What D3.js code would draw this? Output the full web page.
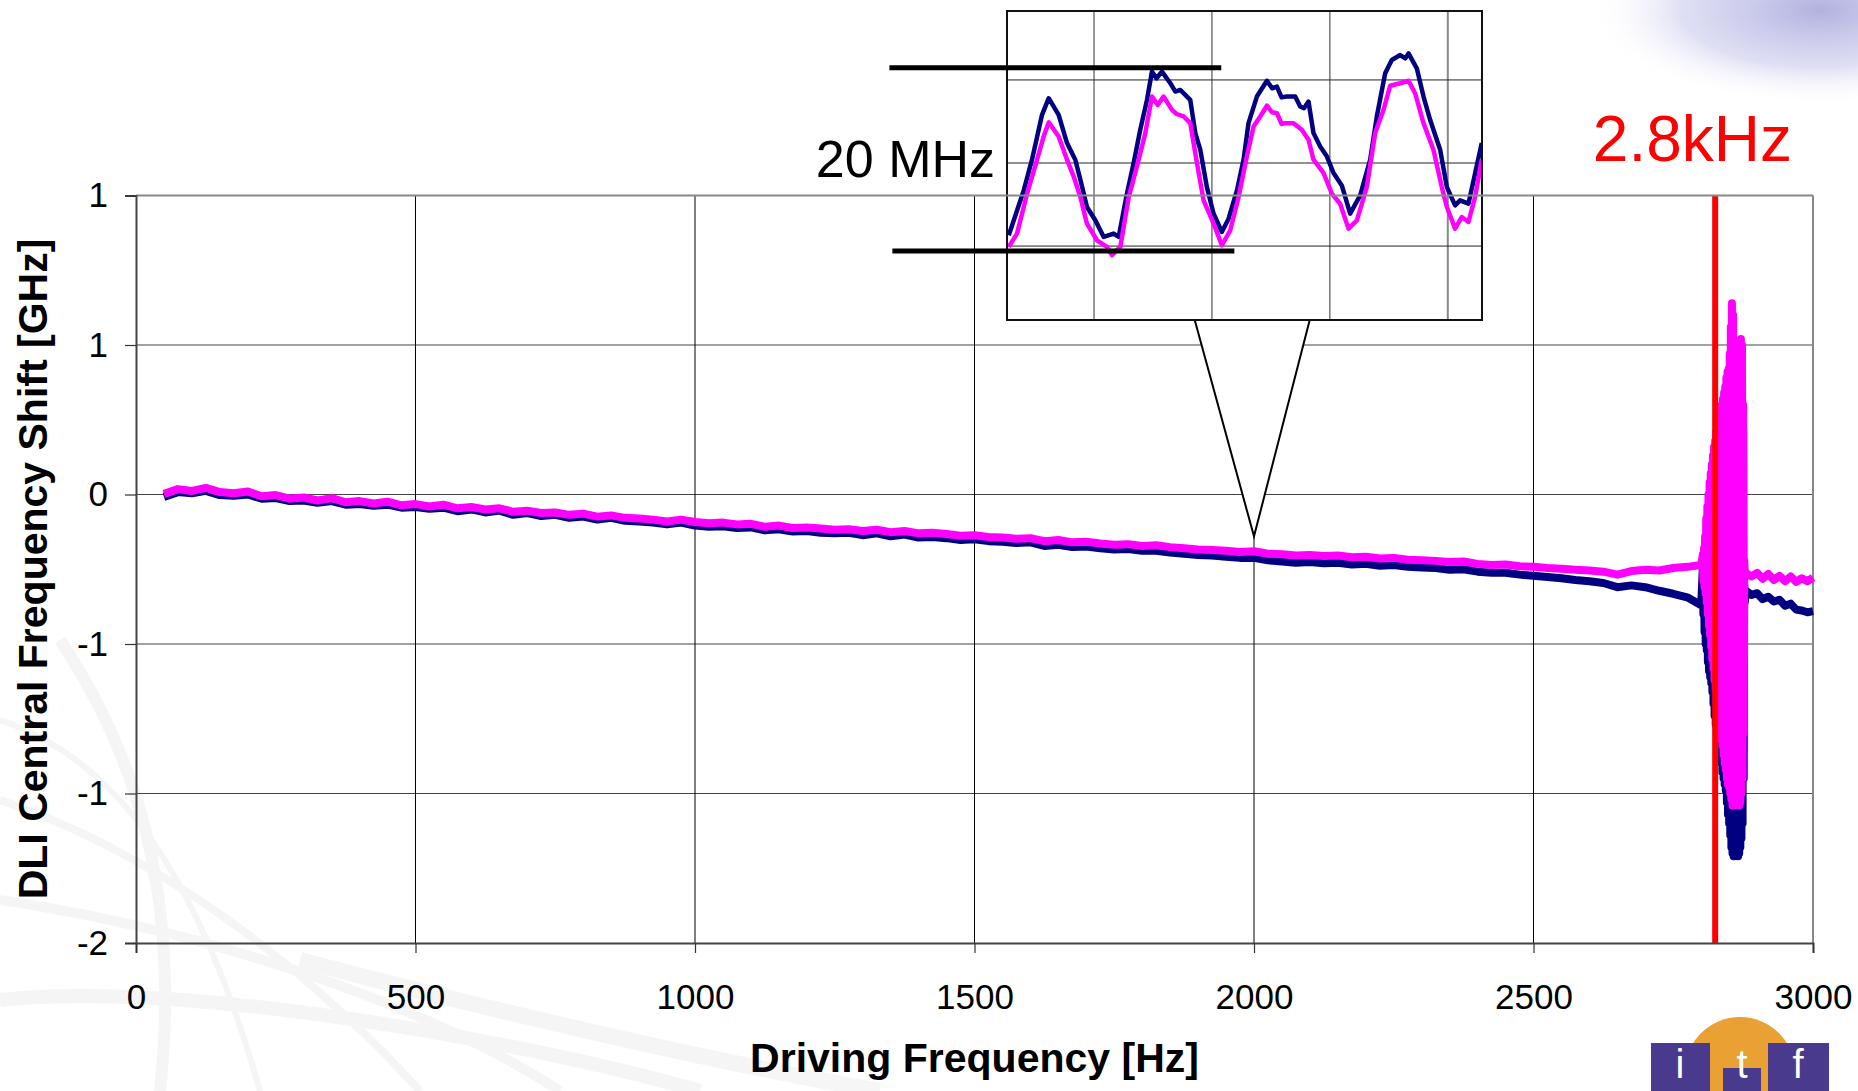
<!DOCTYPE html>
<html>
<head>
<meta charset="utf-8">
<script src="https://cdn.jsdelivr.net/npm/d3@7"></script>
<style>
  html, body { margin: 0; padding: 0; background: #fff; }
  svg { display: block; font-family: "Liberation Sans", Arial, sans-serif; }
</style>
</head>
<body>
<svg id="chart"></svg>
<script>
// ---- data ----
// main sweep, 50..2800 Hz every 25 Hz
const baseHz = d3.range(50, 2801, 25);
const magentaBase = [
  0.002, 0.018, 0.012, 0.022, 0.008, 0.004, 0.010, -0.006, -0.002, -0.014,
  -0.010, -0.020, -0.012, -0.026, -0.022, -0.030, -0.024, -0.036, -0.032, -0.040,
  -0.034, -0.046, -0.042, -0.050, -0.046, -0.058, -0.054, -0.062, -0.060, -0.068,
  -0.064, -0.074, -0.070, -0.078, -0.080, -0.084, -0.090, -0.084, -0.092, -0.096,
  -0.094, -0.100, -0.098, -0.108, -0.104, -0.112, -0.110, -0.114, -0.118, -0.116,
  -0.122, -0.118, -0.126, -0.122, -0.130, -0.128, -0.132, -0.138, -0.136, -0.142,
  -0.144, -0.148, -0.146, -0.156, -0.152, -0.160, -0.158, -0.164, -0.168, -0.166,
  -0.172, -0.170, -0.176, -0.180, -0.184, -0.186, -0.188, -0.192, -0.190, -0.198,
  -0.200, -0.204, -0.202, -0.206, -0.204, -0.210, -0.208, -0.214, -0.212, -0.218,
  -0.220, -0.222, -0.226, -0.224, -0.232, -0.236, -0.234, -0.240, -0.242, -0.246,
  -0.248, -0.252, -0.254, -0.258, -0.268, -0.256, -0.252, -0.254, -0.246, -0.242, -0.236
];
const navyBase = [
  -0.008, 0.008, 0.004, 0.012, -0.002, -0.004, 0.000, -0.014, -0.012, -0.022,
  -0.020, -0.028, -0.022, -0.034, -0.032, -0.038, -0.034, -0.044, -0.042, -0.048,
  -0.044, -0.056, -0.050, -0.060, -0.054, -0.068, -0.062, -0.072, -0.068, -0.078,
  -0.074, -0.084, -0.078, -0.088, -0.090, -0.094, -0.100, -0.094, -0.104, -0.108,
  -0.106, -0.112, -0.110, -0.120, -0.116, -0.124, -0.122, -0.128, -0.130, -0.128,
  -0.136, -0.130, -0.140, -0.134, -0.144, -0.142, -0.146, -0.152, -0.150, -0.156,
  -0.158, -0.162, -0.160, -0.172, -0.168, -0.176, -0.174, -0.180, -0.184, -0.182,
  -0.188, -0.188, -0.194, -0.198, -0.202, -0.204, -0.208, -0.212, -0.212, -0.220,
  -0.224, -0.228, -0.226, -0.230, -0.228, -0.234, -0.232, -0.238, -0.236, -0.242,
  -0.244, -0.246, -0.252, -0.250, -0.258, -0.262, -0.262, -0.268, -0.272, -0.276,
  -0.280, -0.286, -0.290, -0.296, -0.310, -0.304, -0.310, -0.322, -0.332, -0.344, -0.370
];
// resonance, 2803..2878 Hz every 1 Hz (alternating swing)
const resHz = d3.range(2803, 2879);
const magentaRes = [
  -0.20, -0.29, -0.18, -0.31, -0.14, -0.33, -0.08, -0.36, -0.04, -0.40,
  0.00, -0.44, 0.04, -0.47, 0.07, -0.51, 0.10, -0.55, 0.13, -0.58,
  0.16, -0.62, 0.18, -0.65, 0.21, -0.69, 0.23, -0.72, 0.26, -0.75,
  0.27, -0.79, 0.29, -0.82, 0.30, -0.84, 0.32, -0.87, 0.34, -0.90,
  0.36, -0.92, 0.39, -0.95, 0.41, -0.97, 0.42, -0.98, 0.47, -1.00,
  0.56, -1.02, 0.64, -1.04, 0.60, -1.04, 0.45, -1.03, 0.40, -1.01,
  0.38, -1.00, 0.44, -1.02, 0.48, -1.04, 0.51, -1.03, 0.52, -1.00,
  0.50, -0.95, 0.30, -0.80, -0.22, -0.26
];
const navyRes = [
  -0.24, -0.40, -0.24, -0.46, -0.22, -0.50, -0.16, -0.52, -0.12, -0.56,
  -0.08, -0.59, -0.04, -0.61, -0.01, -0.63, 0.02, -0.66, 0.05, -0.70,
  0.08, -0.74, 0.10, -0.77, 0.13, -0.80, 0.15, -0.82, 0.18, -0.84,
  0.19, -0.87, 0.21, -0.90, 0.22, -0.93, 0.24, -0.95, 0.26, -0.97,
  0.28, -0.99, 0.31, -1.03, 0.33, -1.07, 0.34, -1.10, 0.39, -1.14,
  0.48, -1.18, 0.56, -1.20, 0.52, -1.21, 0.37, -1.19, 0.32, -1.17,
  0.30, -1.20, 0.36, -1.21, 0.40, -1.20, 0.43, -1.18, 0.44, -1.15,
  0.42, -1.10, 0.22, -0.95, -0.30, -0.36
];
// after resonance, 2880..3000 Hz every 10 Hz
const tailHz = d3.range(2880, 3001, 10);
const magentaTail = [-0.262, -0.274, -0.262, -0.282, -0.266, -0.286, -0.272, -0.290, -0.274, -0.292, -0.280, -0.290, -0.278];
const navyTail = [-0.322, -0.336, -0.330, -0.350, -0.342, -0.358, -0.352, -0.372, -0.365, -0.385, -0.388, -0.394, -0.390];

const xTicks = [0, 500, 1000, 1500, 2000, 2500, 3000];
const yTicks = [1.0, 0.5, 0, -0.5, -1.0, -1.5];
const yTickLabels = ["1", "1", "0", "-1", "-1", "-2"];
const resonanceHz = 2825;

// inset: zoomed trace (time units, MHz-like units)
const insetNavy = [
  [0.277,-8.7],[0.404,-3.3],[0.474,0.4],[0.559,5.8],[0.616,7.8],[0.70,5.8],[0.771,2.4],[0.841,0.4],
  [0.884,-2.0],[0.94,-5.3],[1.011,-6.9],[1.082,-8.9],[1.166,-8.5],[1.209,-8.9],[1.279,-3.7],[1.336,0.0],
  [1.392,4.0],[1.449,7.6],[1.491,11.0],[1.53,10.2],[1.576,11.0],[1.647,9.6],[1.69,8.6],[1.731,8.8],[1.816,7.6],
  [1.859,3.6],[1.901,1.6],[1.957,-2.9],[2.014,-6.1],[2.084,-8.3],[2.141,-6.7],[2.212,-3.3],[2.268,0.4],
  [2.31,4.8],[2.381,8.0],[2.466,9.9],[2.51,9.0],[2.551,9.2],[2.59,7.9],[2.635,8.0],[2.706,8.0],[2.748,6.8],
  [2.78,6.6],[2.819,7.4],[2.861,3.6],[2.918,2.0],[2.974,0.8],[3.031,-1.2],[3.101,-2.7],[3.172,-6.1],
  [3.257,-3.9],[3.342,0.4],[3.398,5.6],[3.469,10.8],[3.525,12.4],[3.596,13.0],[3.64,12.6],[3.667,13.2],
  [3.737,11.4],[3.794,8.0],[3.85,5.2],[3.935,1.6],[3.992,-2.9],[4.062,-5.1],[4.104,-4.5],[4.175,-4.9],
  [4.217,-2.2],[4.288,2.4]
];
const insetMagenta = [
  [0.277,-10.1],[0.347,-8.5],[0.432,-3.7],[0.517,0.4],[0.573,3.2],[0.616,4.9],[0.70,3.2],[0.771,0.4],
  [0.827,-1.6],[0.884,-4.1],[0.94,-7.3],[1.025,-9.3],[1.11,-10.1],[1.152,-11.1],[1.223,-10.1],[1.294,-4.1],
  [1.364,-0.4],[1.435,3.6],[1.491,8.0],[1.54,7.0],[1.59,8.0],[1.661,6.4],[1.70,5.9],[1.76,5.6],[1.816,4.8],
  [1.873,0.0],[1.929,-4.5],[2.014,-7.3],[2.084,-9.9],[2.155,-8.1],[2.226,-4.1],[2.296,0.8],[2.353,4.4],
  [2.409,5.6],[2.466,6.9],[2.51,6.1],[2.551,6.0],[2.59,4.7],[2.621,4.8],[2.692,4.8],[2.762,4.0],[2.819,2.8],
  [2.861,0.4],[2.946,-1.2],[3.017,-3.7],[3.087,-4.9],[3.158,-7.9],[3.229,-6.9],[3.313,-2.9],[3.384,3.6],
  [3.455,6.4],[3.511,9.3],[3.596,9.6],[3.667,9.9],[3.723,8.4],[3.794,4.8],[3.878,1.6],[3.949,-2.9],
  [3.992,-5.3],[4.062,-7.9],[4.118,-6.5],[4.175,-7.1],[4.231,-4.1],[4.288,0.4]
];
const insetGridT = [1, 2, 3];
const insetGridV = [-10, 0, 10];
const spanMarks = [
  { t0: -0.735, t1: 2.079, v: 11.48 },
  { t0: -0.71, t1: 2.19, v: -10.6 }
];

// ---- layout ----
const W = 1858, H = 1091;
const svg = d3.select("#chart").attr("width", W).attr("height", H);

const x = d3.scaleLinear().domain([0, 3000]).range([136, 1813]);
const y = d3.scaleLinear().domain([-1.5, 1.0]).range([943, 195.5]);

const ix = d3.scaleLinear().domain([0.262, 4.29]).range([1007, 1482]);
const iy = d3.scaleLinear().domain([-18.9, 18.3]).range([320, 11]);

// background decoration
const defs = svg.append("defs");
const blob = defs.append("radialGradient").attr("id", "blob");
blob.append("stop").attr("offset", "0%").attr("stop-color", "#a9a9dd").attr("stop-opacity", 0.9);
blob.append("stop").attr("offset", "60%").attr("stop-color", "#c9c9ec").attr("stop-opacity", 0.6);
blob.append("stop").attr("offset", "100%").attr("stop-color", "#ffffff").attr("stop-opacity", 0);
svg.append("ellipse").attr("cx", 1820).attr("cy", 10).attr("rx", 230).attr("ry", 95).attr("fill", "url(#blob)");

const swirl = svg.append("g").attr("fill", "none").attr("stroke", "#e4e4e4").attr("opacity", 0.35);
[
  "M0,720 C120,760 200,880 260,1091",
  "M0,800 C150,850 300,960 420,1091",
  "M0,900 C200,930 420,1000 560,1091",
  "M60,640 C140,760 180,900 160,1091",
  "M0,1000 C180,980 520,1040 700,1091",
  "M300,960 C450,1000 700,1060 880,1091"
].forEach((d, i) => swirl.append("path").attr("d", d).attr("stroke-width", 6 + i * 2));

// gridlines
const grid = svg.append("g");
grid.selectAll("line.h").data(yTicks.slice(1, -1)).join("line")
  .attr("x1", x(0)).attr("x2", x(3000))
  .attr("y1", d => y(d)).attr("y2", d => y(d))
  .attr("stroke", "#444").attr("stroke-width", 1.2);
grid.selectAll("line.v").data(xTicks.slice(1, -1)).join("line")
  .attr("x1", d => x(d)).attr("x2", d => x(d))
  .attr("y1", y(1.0)).attr("y2", y(-1.5))
  .attr("stroke", "#000").attr("stroke-width", 1);
grid.append("line")
  .attr("x1", x(3000)).attr("x2", x(3000)).attr("y1", y(1.0)).attr("y2", y(-1.5))
  .attr("stroke", "#888").attr("stroke-width", 2);

// series
function series(hzA, vA, hzB, vB, hzC, vC) {
  const pts = [];
  hzA.forEach((h, i) => pts.push([h, vA[i]]));
  hzB.forEach((h, i) => pts.push([h, vB[i]]));
  hzC.forEach((h, i) => pts.push([h, vC[i]]));
  return pts;
}
const navy = series(baseHz, navyBase, resHz, navyRes, tailHz, navyTail);
const magenta = series(baseHz, magentaBase, resHz, magentaRes, tailHz, magentaTail);
const line = d3.line().x(d => x(d[0])).y(d => y(d[1]));

svg.append("path").datum(navy).attr("d", line)
  .attr("fill", "none").attr("stroke", "#000080").attr("stroke-width", 8).attr("stroke-linejoin", "round");
svg.append("path").datum(magenta).attr("d", line)
  .attr("fill", "none").attr("stroke", "#ff00ff").attr("stroke-width", 8).attr("stroke-linejoin", "round");

// resonance marker
svg.append("line")
  .attr("x1", x(resonanceHz)).attr("x2", x(resonanceHz))
  .attr("y1", y(1.0)).attr("y2", y(-1.5))
  .attr("stroke", "#ff0000").attr("stroke-width", 6);
svg.append("text")
  .attr("x", 1792).attr("y", 161).attr("text-anchor", "end")
  .attr("font-size", 64).attr("fill", "#ff0000").text("2.8kHz");

// callout triangle to 2000 Hz
const tri = [[ix(1.854), iy(-18.9)], [ix(2.829), iy(-18.9)], [x(2000), y(-0.14)]];
svg.append("path").attr("d", "M" + tri.map(p => p.join(",")).join("L") + "Z")
  .attr("fill", "#fff").attr("stroke", "#000").attr("stroke-width", 2);

// inset
const inset = svg.append("g");
inset.append("rect")
  .attr("x", ix(0.262)).attr("y", iy(18.3))
  .attr("width", ix(4.29) - ix(0.262)).attr("height", iy(-18.9) - iy(18.3))
  .attr("fill", "#fff");
defs.append("clipPath").attr("id", "insetClip").append("rect")
  .attr("x", ix(0.262)).attr("y", iy(18.3))
  .attr("width", ix(4.29) - ix(0.262)).attr("height", iy(-18.9) - iy(18.3));
inset.selectAll("line.ig").data(insetGridT).join("line")
  .attr("x1", d => ix(d)).attr("x2", d => ix(d)).attr("y1", iy(18.3)).attr("y2", iy(-18.9))
  .attr("stroke", "#333").attr("stroke-width", 1);
inset.append("line")
  .attr("x1", ix(4)).attr("x2", ix(4)).attr("y1", iy(18.3)).attr("y2", iy(-18.9))
  .attr("stroke", "#888").attr("stroke-width", 2);
inset.selectAll("line.ih").data(insetGridV).join("line")
  .attr("x1", ix(0.262)).attr("x2", ix(4.29)).attr("y1", d => iy(d)).attr("y2", d => iy(d))
  .attr("stroke", "#222").attr("stroke-width", 1);
const iline = d3.line().x(d => ix(d[0])).y(d => iy(d[1]));
const traces = inset.append("g").attr("clip-path", "url(#insetClip)");
traces.append("path").datum(insetNavy).attr("d", iline)
  .attr("fill", "none").attr("stroke", "#000080").attr("stroke-width", 4.5).attr("stroke-linejoin", "round");
traces.append("path").datum(insetMagenta).attr("d", iline)
  .attr("fill", "none").attr("stroke", "#ff00ff").attr("stroke-width", 4.5).attr("stroke-linejoin", "round");
inset.append("rect")
  .attr("x", ix(0.262)).attr("y", iy(18.3))
  .attr("width", ix(4.29) - ix(0.262)).attr("height", iy(-18.9) - iy(18.3))
  .attr("fill", "none").attr("stroke", "#111").attr("stroke-width", 2);

// 20 MHz span marks
svg.selectAll("line.span").data(spanMarks).join("line")
  .attr("x1", d => ix(d.t0)).attr("x2", d => ix(d.t1))
  .attr("y1", d => iy(d.v)).attr("y2", d => iy(d.v))
  .attr("stroke", "#000").attr("stroke-width", 5);
svg.append("text")
  .attr("x", 995).attr("y", 177).attr("text-anchor", "end")
  .attr("font-size", 52).attr("fill", "#000").text("20 MHz");

// plot-area top border (drawn over inset)
svg.append("line")
  .attr("x1", x(0)).attr("x2", x(3000)).attr("y1", y(1.0)).attr("y2", y(1.0))
  .attr("stroke", "#888").attr("stroke-width", 2);

// axes
const xAxis = svg.append("g").attr("transform", `translate(0,${y(-1.5)})`)
  .call(d3.axisBottom(x).tickValues(xTicks).tickFormat(d3.format("d")).tickSize(10).tickPadding(31));
const yAxis = svg.append("g").attr("transform", `translate(${x(0)},0)`)
  .call(d3.axisLeft(y).tickValues(yTicks).tickFormat((d, i) => yTickLabels[i]).tickSize(11).tickPadding(17));
[xAxis, yAxis].forEach(a => {
  a.select(".domain").attr("stroke", "#444").attr("stroke-width", 2);
  a.selectAll(".tick line").attr("stroke", "#333").attr("stroke-width", 1.2);
  a.selectAll(".tick text").attr("font-size", 35).attr("fill", "#000")
    .attr("font-family", "'Liberation Sans', Arial, sans-serif");
});

// axis titles
svg.append("text")
  .attr("x", (x(0) + x(3000)) / 2).attr("y", 1072).attr("text-anchor", "middle")
  .attr("font-size", 41).attr("font-weight", "bold").text("Driving Frequency [Hz]");
svg.append("text")
  .attr("transform", "translate(47,569) rotate(-90)").attr("text-anchor", "middle")
  .attr("font-size", 41).attr("font-weight", "bold").text("DLI Central Frequency Shift [GHz]");

// logo
const logo = svg.append("g");
logo.append("circle").attr("cx", 1740).attr("cy", 1072).attr("r", 55).attr("fill", "#e9a133");
logo.append("rect").attr("x", 1651).attr("y", 1043).attr("width", 59).attr("height", 48).attr("fill", "#4a3a8e");
logo.append("rect").attr("x", 1768).attr("y", 1043).attr("width", 61).attr("height", 48).attr("fill", "#4a3a8e");
logo.append("rect").attr("x", 1723).attr("y", 1068).attr("width", 38).attr("height", 23).attr("fill", "#4a3a8e");
[["i", 1680], ["t", 1742], ["f", 1798]].forEach(([s, cx]) =>
  logo.append("text").attr("x", cx).attr("y", 1078).attr("text-anchor", "middle")
    .attr("font-size", 40).attr("fill", "#fff").text(s));
</script>
</body>
</html>
